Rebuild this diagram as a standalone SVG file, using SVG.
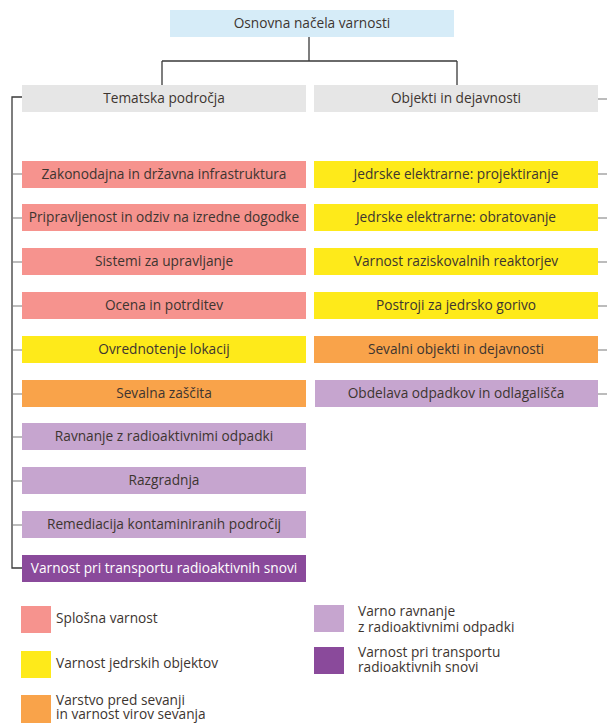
<svg xmlns="http://www.w3.org/2000/svg" width="607" height="726" viewBox="0 0 607 726">
<style>
text{font-family:"Open Sans","Noto Sans","Liberation Sans",sans-serif;font-size:13.7px;fill:#3d3530;}
.c{text-anchor:middle;}
.w{fill:#ffffff;}
.blue{fill:#d6ecf8;}
.gray{fill:#e6e6e6;}
.pink{fill:#f6938e;}
.yel{fill:#feea1a;}
.ora{fill:#f9a34a;}
.lpur{fill:#c6a5cf;}
.dpur{fill:#8a4a9b;}
.ln{stroke:#3a3a3a;stroke-width:1.3;fill:none;}
.tk{stroke:#7a7a7a;stroke-width:1.1;fill:none;}
</style>
<g id="connectors">
<path class="ln" d="M309 37V61M162 61H457M162 61V85M457 61V85"/>
<path class="ln" d="M22 97H12V568H22"/>
<path class="tk" d="M12 174H22M12 218H22M12 262H22M12 306H22M12 350H22M12 394H22M12 437H22M12 481H22M12 525H22"/>
<path class="tk" d="M598 99H607M598 174H607M598 218H607M598 262H607M598 306H607M598 350H607M598 394H607"/>
</g>
<g id="root"><rect class="blue" x="170" y="10" width="284" height="27"/><text class="c" x="312" y="28">Osnovna načela varnosti</text></g>
<g id="tematska"><rect class="gray" x="22" y="85" width="284" height="27"/><text class="c" x="164" y="103">Tematska področja</text></g>
<g id="objekti"><rect class="gray" x="314" y="85" width="284" height="27"/><text class="c" x="456" y="103">Objekti in dejavnosti</text></g>

<g id="l0"><rect class="pink" x="22" y="161" width="284" height="27"/><text class="c" x="164" y="179">Zakonodajna in državna infrastruktura</text></g>
<g id="l1"><rect class="pink" x="22" y="204" width="284" height="27"/><text class="c" x="164" y="222">Pripravljenost in odziv na izredne dogodke</text></g>
<g id="l2"><rect class="pink" x="22" y="248" width="284" height="27"/><text class="c" x="164" y="266">Sistemi za upravljanje</text></g>
<g id="l3"><rect class="pink" x="22" y="292" width="284" height="27"/><text class="c" x="164" y="310">Ocena in potrditev</text></g>
<g id="l4"><rect class="yel" x="22" y="336" width="284" height="27"/><text class="c" x="164" y="354">Ovrednotenje lokacij</text></g>
<g id="l5"><rect class="ora" x="22" y="380" width="284" height="27"/><text class="c" x="164" y="398">Sevalna zaščita</text></g>
<g id="l6"><rect class="lpur" x="22" y="423" width="284" height="27"/><text class="c" x="164" y="441">Ravnanje z radioaktivnimi odpadki</text></g>
<g id="l7"><rect class="lpur" x="22" y="467" width="284" height="27"/><text class="c" x="164" y="485">Razgradnja</text></g>
<g id="l8"><rect class="lpur" x="22" y="511" width="284" height="27"/><text class="c" x="164" y="529">Remediacija kontaminiranih področij</text></g>
<g id="l9"><rect class="dpur" x="22" y="555" width="284" height="27"/><text class="c w" x="164" y="573">Varnost pri transportu radioaktivnih snovi</text></g>

<g id="r0"><rect class="yel" x="314" y="161" width="284" height="27"/><text class="c" x="456" y="179">Jedrske elektrarne: projektiranje</text></g>
<g id="r1"><rect class="yel" x="314" y="204" width="284" height="27"/><text class="c" x="456" y="222">Jedrske elektrarne: obratovanje</text></g>
<g id="r2"><rect class="yel" x="314" y="248" width="284" height="27"/><text class="c" x="456" y="266">Varnost raziskovalnih reaktorjev</text></g>
<g id="r3"><rect class="yel" x="314" y="292" width="284" height="27"/><text class="c" x="456" y="310">Postroji za jedrsko gorivo</text></g>
<g id="r4"><rect class="ora" x="314" y="336" width="284" height="27"/><text class="c" x="456" y="354">Sevalni objekti in dejavnosti</text></g>
<g id="r5"><rect class="lpur" x="315" y="380" width="283" height="27"/><text class="c" x="456" y="398">Obdelava odpadkov in odlagališča</text></g>

<g id="legend">
<rect class="pink" x="21" y="606" width="30" height="27"/><text x="56" y="623">Splošna varnost</text>
<rect class="yel" x="21" y="651" width="30" height="27"/><text x="56" y="668">Varnost jedrskih objektov</text>
<rect class="ora" x="21" y="695" width="30" height="28"/><text x="56" y="705">Varstvo pred sevanji</text><text x="56" y="719">in varnost virov sevanja</text>
<rect class="lpur" x="314" y="605" width="30" height="27"/><text x="358" y="616">Varno ravnanje</text><text x="358" y="632">z radioaktivnimi odpadki</text>
<rect class="dpur" x="314" y="647" width="30" height="27"/><text x="358" y="657">Varnost pri transportu</text><text x="358" y="672">radioaktivnih snovi</text>
</g>
</svg>
